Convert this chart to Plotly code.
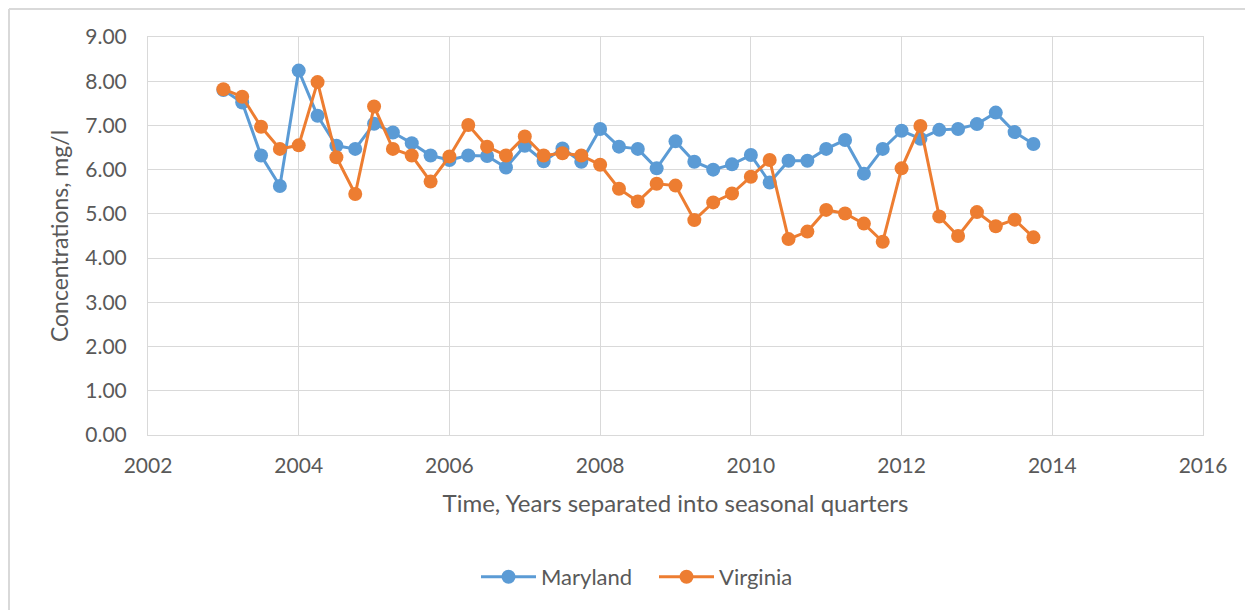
import plotly.graph_objects as go

# quarterly sampling, 2003 Q1 .. 2013 Q4
years = [2003 + q * 0.25 for q in range(44)]

maryland = [
    7.80, 7.52, 6.32, 5.63, 8.24, 7.22, 6.54, 6.47, 7.04, 6.84, 6.60, 6.32,
    6.22, 6.32, 6.31, 6.05, 6.54, 6.19, 6.48, 6.18, 6.92, 6.52, 6.47, 6.03,
    6.64, 6.18, 6.00, 6.12, 6.33, 5.71, 6.20, 6.20, 6.47, 6.67, 5.91, 6.47,
    6.88, 6.70, 6.90, 6.92, 7.03, 7.29, 6.85, 6.58,
]
virginia = [
    7.82, 7.65, 6.97, 6.47, 6.55, 7.98, 6.28, 5.45, 7.43, 6.47, 6.32, 5.73,
    6.30, 7.01, 6.52, 6.32, 6.75, 6.32, 6.37, 6.32, 6.11, 5.57, 5.28, 5.68,
    5.64, 4.86, 5.26, 5.46, 5.84, 6.22, 4.43, 4.60, 5.09, 5.01, 4.78, 4.37,
    6.03, 6.99, 4.94, 4.50, 5.04, 4.72, 4.87, 4.47,
]

x_ticks = list(range(2002, 2017, 2))
y_ticks = [i * 1.0 for i in range(10)]

FONT = "Lato"
GREY = "#595959"
GRID = "#d9d9d9"

# the page has an 8px body margin, so the figure starts at (8, 8) on screen
W, H = 1245, 602
L, R, T, B = 140, 50, 29, 175
pw, ph = W - L - R, H - T - B


def px_to_paper(x, y):
    return (x - L) / pw, (H - B - y) / ph


fig = go.Figure()
for name, vals, color in [("Maryland", maryland, "#5B9BD5"),
                          ("Virginia", virginia, "#ED7D31")]:
    fig.add_trace(go.Scatter(
        x=years, y=vals, name=name, mode="lines+markers",
        line=dict(color=color, width=3),
        marker=dict(color=color, size=14),
    ))

# chart frame: only top and left edges show in the picture
x0, y0 = px_to_paper(1, 1)
x1, y1 = px_to_paper(W + 5, H + 5)
fig.add_shape(type="line", xref="paper", yref="paper", x0=x0, y0=y0, x1=x1, y1=y0,
              line=dict(color=GRID, width=2))
fig.add_shape(type="line", xref="paper", yref="paper", x0=x0, y0=y0, x1=x0, y1=y1,
              line=dict(color=GRID, width=2))

fig.update_layout(
    width=W, height=H,
    margin=dict(l=L, r=R, t=T, b=B, autoexpand=False),
    paper_bgcolor="white", plot_bgcolor="white",
    font=dict(family=FONT, color=GREY, size=21),
    xaxis=dict(
        range=[2002, 2016], tickvals=x_ticks, ticktext=[str(v) for v in x_ticks],
        showgrid=True, gridcolor=GRID, gridwidth=1, zeroline=False,
        showline=True, linecolor=GRID, mirror=True, ticks="",
        tickfont=dict(size=21, color=GREY), ticklabelstandoff=12, automargin=False,
        title=dict(text="Time, Years separated into seasonal quarters",
                   font=dict(size=24, color=GREY), standoff=18),
    ),
    yaxis=dict(
        range=[0, 9], tickvals=y_ticks, ticktext=[f"{v:.2f}" for v in y_ticks],
        showgrid=True, gridcolor=GRID, gridwidth=1, zeroline=False,
        showline=True, linecolor=GRID, mirror=True, ticks="",
        tickfont=dict(size=21, color=GREY), ticklabelstandoff=16, automargin=False,
        title=dict(text="Concentrations, mg/l", font=dict(size=23, color=GREY), standoff=10),
    ),
    legend=dict(
        orientation="h", x=px_to_paper(468, 0)[0], xanchor="left",
        y=px_to_paper(0, 569)[1], yanchor="middle",
        font=dict(size=22, color=GREY), itemwidth=55,
        entrywidth=108, entrywidthmode="pixels", bgcolor="rgba(0,0,0,0)",
    ),
    showlegend=True,
)

fig.write_html("out.html")
